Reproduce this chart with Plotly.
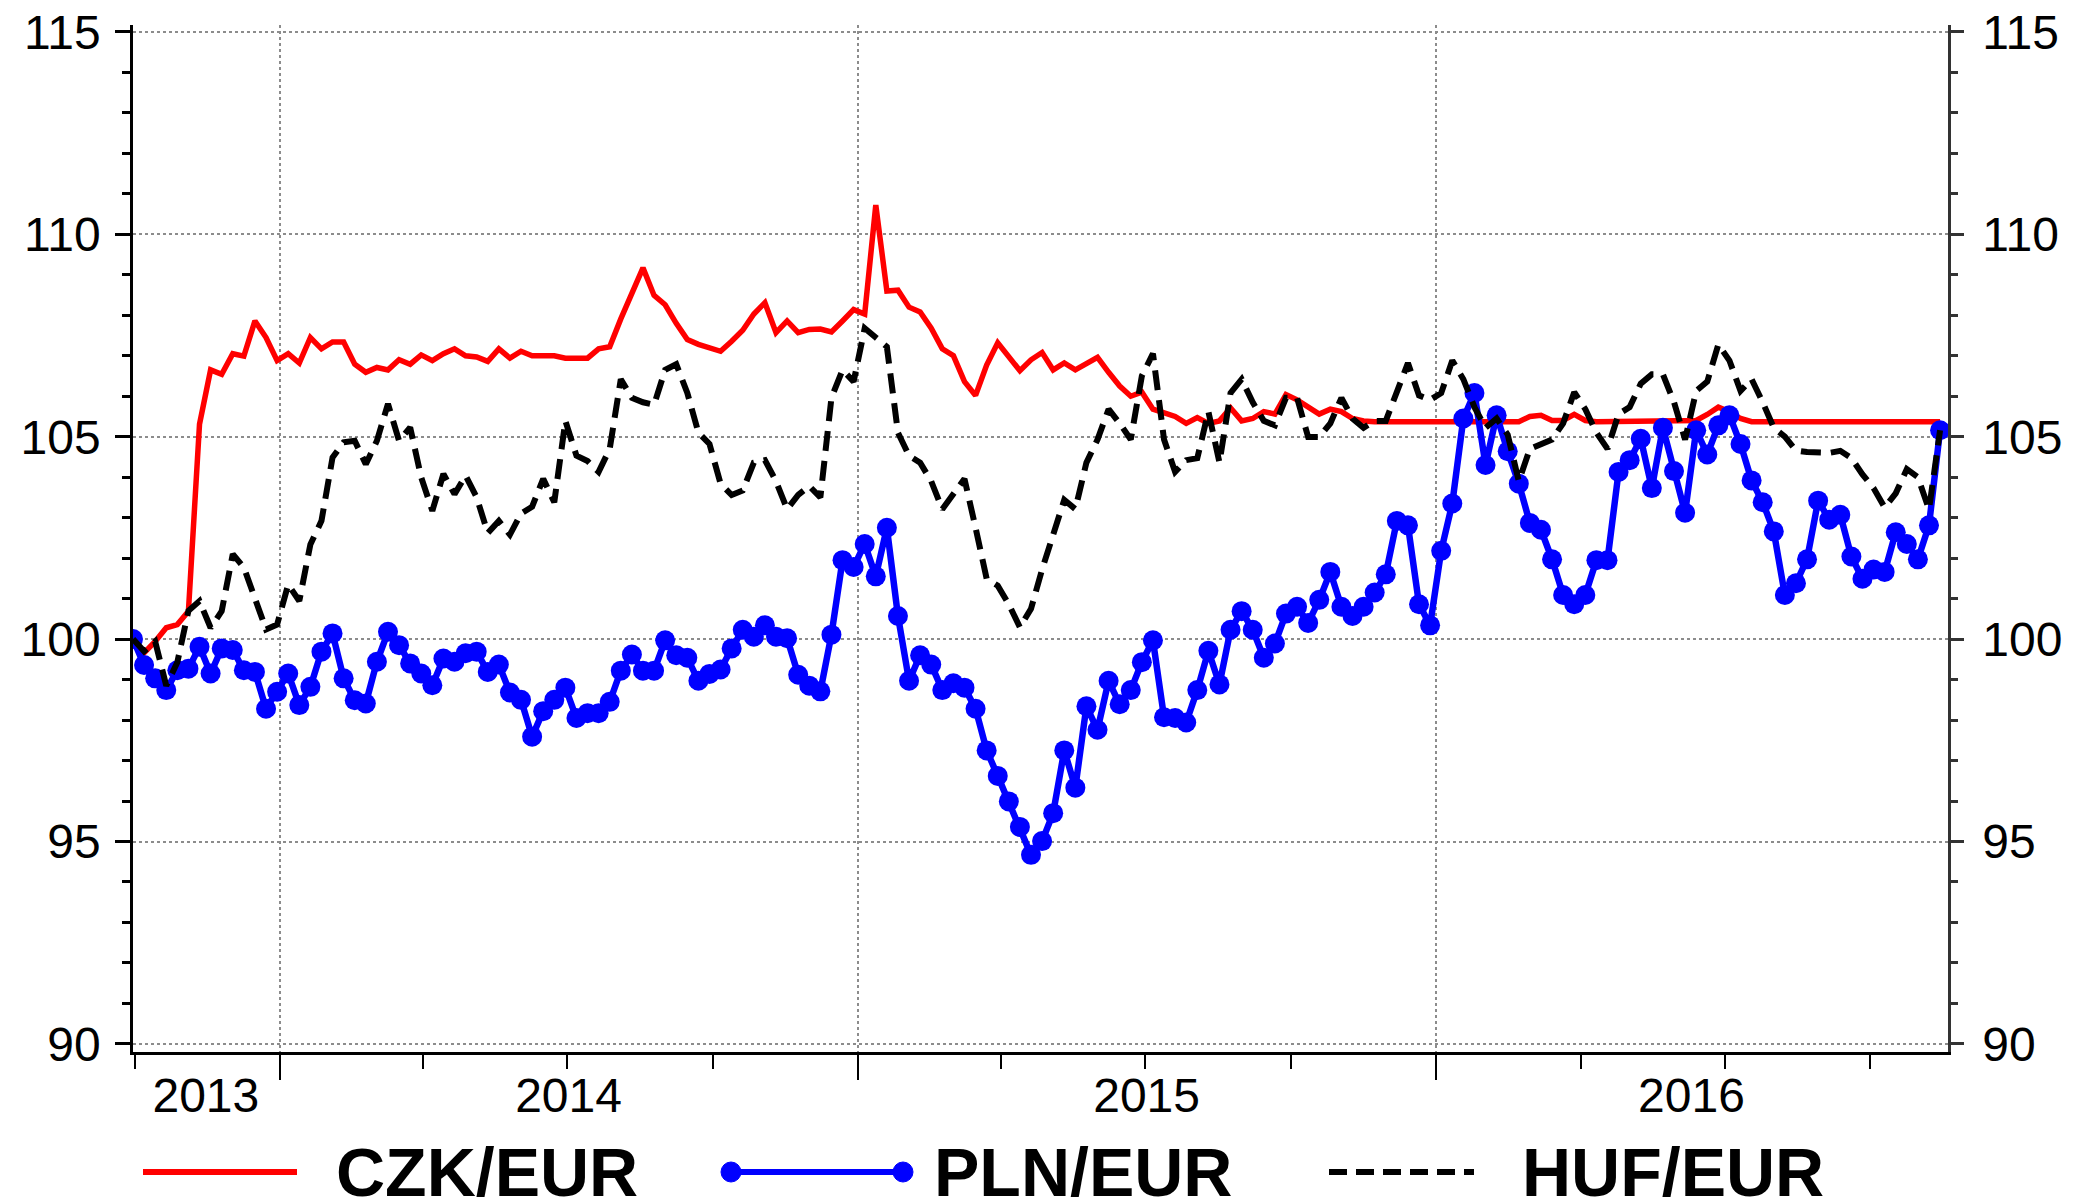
import pandas as pd
import plotly.graph_objects as go

# weekly index values, first week = 100
czk = [100.0, 99.66, 99.94, 100.28, 100.36, 100.69, 105.31, 106.65, 106.54, 107.05,
       106.99, 107.86, 107.45, 106.88, 107.05, 106.82, 107.45, 107.17, 107.34, 107.34,
       106.79, 106.59, 106.71, 106.65, 106.90, 106.79, 107.02, 106.88, 107.05, 107.17,
       107.00, 106.97, 106.86, 107.17, 106.94, 107.11, 107.00, 107.00, 107.00, 106.94,
       106.94, 106.94, 107.17, 107.22, 107.91, 108.54, 109.17, 108.49, 108.26, 107.80,
       107.40, 107.28, 107.19, 107.11, 107.36, 107.63, 108.03, 108.31, 107.57, 107.86,
       107.57, 107.65, 107.66, 107.59, 107.86, 108.14, 108.03, 110.72, 108.60, 108.62,
       108.20, 108.08, 107.68, 107.17, 107.00, 106.36, 106.02, 106.77, 107.32, 107.00,
       106.63, 106.90, 107.08, 106.65, 106.82, 106.65, 106.79, 106.96, 106.59, 106.25,
       106.00, 106.10, 105.68, 105.60, 105.50, 105.33, 105.47, 105.33, 105.39, 105.71,
       105.39, 105.45, 105.62, 105.56, 106.04, 105.91, 105.73, 105.56, 105.68, 105.62,
       105.45, 105.39, 105.37, 105.37, 105.37, 105.37, 105.37, 105.37, 105.37, 105.37,
       105.37, 105.37, 105.37, 105.37, 105.37, 105.37, 105.50, 105.53, 105.40, 105.40,
       105.55, 105.40, 105.37, 105.37, 105.37, 105.40, 105.37, 105.37, 105.37, 105.37,
       105.37, 105.40, 105.55, 105.73, 105.62, 105.45, 105.37, 105.37, 105.37, 105.37,
       105.37, 105.37, 105.37, 105.37, 105.37, 105.37, 105.37, 105.37, 105.37, 105.37,
       105.37, 105.37, 105.37, 105.37]

pln = [100.0, 99.36, 99.03, 98.74, 99.23, 99.27, 99.81, 99.15, 99.77, 99.73,
       99.23, 99.19, 98.28, 98.70, 99.15, 98.37, 98.82, 99.69, 100.14, 99.03,
       98.49, 98.41, 99.44, 100.18, 99.85, 99.40, 99.15, 98.86, 99.52, 99.44,
       99.65, 99.69, 99.19, 99.37, 98.68, 98.50, 97.59, 98.22, 98.50, 98.80,
       98.05, 98.17, 98.17, 98.45, 99.22, 99.62, 99.22, 99.22, 99.97, 99.60,
       99.54, 98.97, 99.14, 99.25, 99.77, 100.23, 100.06, 100.34, 100.06, 100.02,
       99.12, 98.85, 98.71, 100.11, 101.95, 101.78, 102.35, 101.55, 102.75, 100.57,
       98.97, 99.60, 99.37, 98.74, 98.91, 98.80, 98.28, 97.25, 96.62, 95.99,
       95.36, 94.67, 95.01, 95.70, 97.25, 96.33, 98.34, 97.76, 98.97, 98.39,
       98.74, 99.43, 99.97, 98.07, 98.05, 97.94, 98.74, 99.71, 98.88, 100.23,
       100.69, 100.23, 99.54, 99.89, 100.63, 100.80, 100.40, 100.97, 101.66, 100.80,
       100.57, 100.80, 101.15, 101.60, 102.92, 102.81, 100.86, 100.34, 102.18, 103.35,
       105.45, 106.08, 104.30, 105.53, 104.64, 103.84, 102.87, 102.70, 101.97, 101.09,
       100.86, 101.09, 101.95, 101.95, 104.13, 104.42, 104.95, 103.73, 105.22, 104.15,
       103.12, 105.16, 104.56, 105.28, 105.53, 104.82, 103.92, 103.38, 102.66, 101.09,
       101.38, 101.97, 103.42, 102.95, 103.07, 102.04, 101.49, 101.72, 101.66, 102.64,
       102.35, 101.97, 102.81, 105.16]

huf = [100.0, 99.70, 99.94, 98.85, 99.43, 100.70, 100.94, 100.28, 100.69, 102.10,
       101.77, 101.00, 100.24, 100.36, 101.35, 100.94, 102.34, 102.92, 104.49, 104.86,
       104.90, 104.32, 104.90, 105.81, 104.90, 105.23, 103.99, 103.17, 104.08, 103.58,
       104.04, 103.50, 102.62, 102.92, 102.58, 103.10, 103.27, 103.96, 103.38, 105.39,
       104.53, 104.40, 104.13, 104.70, 106.42, 105.96, 105.85, 105.79, 106.65, 106.79,
       106.08, 105.10, 104.82, 103.84, 103.56, 103.67, 104.36, 104.42, 103.90, 103.21,
       103.56, 103.78, 103.50, 105.96, 106.65, 106.36, 107.68, 107.45, 107.22, 105.10,
       104.53, 104.36, 103.90, 103.21, 103.56, 103.96, 102.75, 101.49, 101.32, 100.86,
       100.29, 100.75, 101.72, 102.64, 103.44, 103.21, 104.36, 104.93, 105.68, 105.33,
       104.93, 106.50, 107.05, 104.93, 104.13, 104.42, 104.47, 105.62, 104.36, 106.08,
       106.42, 105.85, 105.39, 105.28, 105.96, 105.96, 104.99, 104.99, 105.33, 105.96,
       105.45, 105.22, 105.39, 105.39, 106.08, 106.82, 106.02, 105.91, 106.08, 106.88,
       106.42, 105.73, 105.22, 105.45, 105.05, 103.90, 104.70, 104.82, 104.93, 105.33,
       106.10, 105.68, 105.10, 104.70, 105.56, 105.73, 106.31, 106.54, 106.54, 105.85,
       104.93, 106.13, 106.36, 107.28, 106.88, 106.13, 106.42, 105.85, 105.22, 105.00,
       104.66, 104.62, 104.60, 104.60, 104.65, 104.47, 104.07, 103.73, 103.25, 103.60,
       104.20, 104.00, 103.20, 105.16]

dates = pd.date_range("2013-09-30", periods=len(pln), freq="7D")
x_range = ["2013-09-30", "2016-11-19"]

year_starts = ["2014-01-01", "2015-01-01", "2016-01-01"]
quarters = [d.strftime("%Y-%m-%d") for d in pd.date_range("2013-10-01", "2016-10-01", freq="QS")]
year_labels = ["2013", "2014", "2015", "2016"]
year_label_pos = ["2013-11-15", "2014-07-02", "2015-07-02", "2016-06-10"]

y_range = [89.8, 115.17]
y_ticks = [90, 95, 100, 105, 110, 115]

FONT = "Liberation Sans, Arial, sans-serif"
RED = "#ff0000"
BLUE = "#0000ff"

fig = go.Figure()
fig.add_trace(go.Scatter(x=dates, y=czk, name="CZK/EUR", mode="lines",
                         line=dict(color=RED, width=5.5)))
fig.add_trace(go.Scatter(x=dates, y=pln, name="PLN/EUR", mode="lines+markers",
                         line=dict(color=BLUE, width=6.5),
                         marker=dict(color=BLUE, size=20)))
fig.add_trace(go.Scatter(x=dates, y=huf, name="HUF/EUR", mode="lines",
                         line=dict(color="black", width=6, dash="20px,10px")))
# empty trace so the label axis and right axis get drawn
fig.add_trace(go.Scatter(x=[dates[0]], y=[None], xaxis="x2", yaxis="y2",
                         mode="lines", showlegend=False, hoverinfo="skip"))

tick_font = dict(family=FONT, size=48, color="black")

# the page body adds an 8px offset, so the figure is 8px smaller than the window
fig.update_layout(
    width=2065, height=1195,
    margin=dict(l=125, r=125, t=17, b=151),
    paper_bgcolor="white", plot_bgcolor="white",
    showlegend=False,
    xaxis=dict(
        type="date", range=x_range, automargin=False,
        tickmode="array", tickvals=year_starts, showticklabels=False,
        ticks="outside", ticklen=25, tickwidth=2, tickcolor="black",
        showgrid=True, gridcolor="#8c8c8c", gridwidth=1.5, griddash="dot",
        showline=True, linecolor="black", linewidth=2.5, zeroline=False,
        minor=dict(tickmode="array", tickvals=quarters, ticks="outside",
                   ticklen=14, tickwidth=2, tickcolor="black", showgrid=False),
    ),
    xaxis2=dict(
        type="date", range=x_range, overlaying="x", anchor="y", side="bottom",
        automargin=False,
        tickmode="array", tickvals=year_label_pos, ticktext=year_labels,
        ticks="outside", ticklen=1, tickcolor="rgba(0,0,0,0)",
        showgrid=False, showline=False, zeroline=False, tickfont=tick_font,
    ),
    yaxis=dict(
        range=y_range, automargin=False, tickmode="array", tickvals=y_ticks,
        ticks="outside", ticklen=15, tickwidth=2.5, tickcolor="black",
        ticklabelstandoff=5, ticklabeloverflow="allow", tickfont=tick_font,
        showgrid=True, gridcolor="#8c8c8c", gridwidth=1.5, griddash="dot",
        showline=True, linecolor="black", linewidth=2.5, zeroline=False,
        minor=dict(dtick=1, tick0=90, ticks="outside", ticklen=8,
                   tickwidth=2.5, tickcolor="black", showgrid=False),
    ),
    yaxis2=dict(
        range=y_range, overlaying="y", anchor="x", side="right", automargin=False,
        tickmode="array", tickvals=y_ticks,
        ticks="outside", ticklen=13, tickwidth=2.5, tickcolor="#333333",
        ticklabelstandoff=9, ticklabeloverflow="allow", tickfont=tick_font,
        showgrid=False, zeroline=False,
        showline=True, linecolor="#333333", linewidth=2.5,
        minor=dict(dtick=1, tick0=90, ticks="outside", ticklen=7,
                   tickwidth=2.5, tickcolor="#333333", showgrid=False),
    ),
)

# legend drawn below the plot, with long keys like the original
# (positions given in window pixels, converted to paper units)
plot_w, plot_h = 1815.0, 1027.0
def px(xp):
    return (xp - 133) / plot_w
def py(yp):
    return (1052 - yp) / plot_h

leg_y = py(1172)
legend_font = dict(family=FONT, size=68, color="black", weight="bold")
fig.add_shape(type="line", xref="paper", yref="paper", x0=px(143), x1=px(297),
              y0=leg_y, y1=leg_y, line=dict(color=RED, width=6))
fig.add_shape(type="line", xref="paper", yref="paper", x0=px(731), x1=px(903),
              y0=leg_y, y1=leg_y, line=dict(color=BLUE, width=6))
for cx in (731, 903):
    fig.add_shape(type="circle", xref="paper", yref="paper",
                  xsizemode="pixel", ysizemode="pixel",
                  xanchor=px(cx), yanchor=leg_y, x0=-10, x1=10, y0=-10, y1=10,
                  fillcolor=BLUE, line=dict(color=BLUE, width=1))
fig.add_shape(type="line", xref="paper", yref="paper", x0=px(1329), x1=px(1474),
              y0=leg_y, y1=leg_y, line=dict(color="black", width=6, dash="18px,9px"))
for name, xt in (("CZK/EUR", 334), ("PLN/EUR", 932), ("HUF/EUR", 1520)):
    fig.add_annotation(text=name, xref="paper", yref="paper", x=px(xt), y=leg_y,
                       xanchor="left", yanchor="middle", showarrow=False,
                       font=legend_font)

fig.write_html("out.html", config={"displayModeBar": False})
